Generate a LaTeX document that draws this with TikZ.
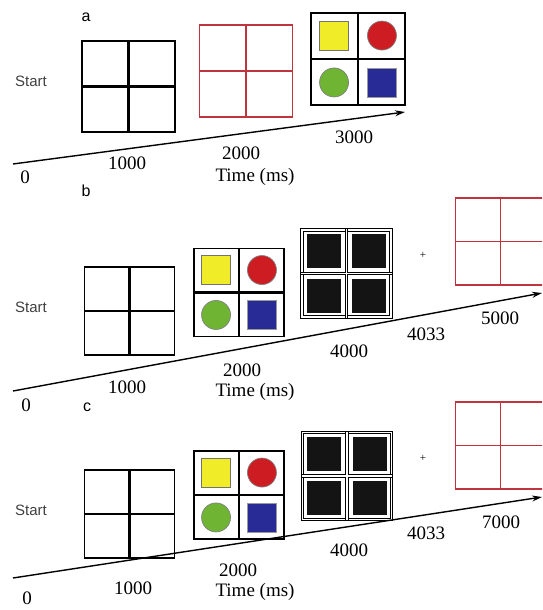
\documentclass[tikz,border=0pt]{standalone}
\usepackage{fontspec}
\setmainfont{Liberation Serif}
\setsansfont{Liberation Sans}
\usetikzlibrary{calc,arrows.meta}
\definecolor{stimred}{RGB}{192,52,62}
\definecolor{stimyellow}{RGB}{240,236,40}
\definecolor{stimgreen}{RGB}{112,180,52}
\definecolor{stimblue}{RGB}{40,42,150}
\definecolor{dotred}{RGB}{205,28,34}
\begin{document}
\begin{tikzpicture}[x=1pt, y=-1pt, >={Stealth[length=10pt,width=6pt]},
  blackgrid/.style={draw, line width=1.8pt, minimum width=90pt, minimum height=88pt, inner sep=0pt},
  blackmid/.style={line width=2.2pt},
  redgrid/.style={draw=stimred, line width=1.4pt, minimum width=90pt, minimum height=87pt, inner sep=0pt},
  redmid/.style={stimred, line width=1.7pt},
  darkgrid/.style={draw, line width=1.1pt, double=white, double distance=1.2pt, minimum width=89pt, minimum height=87pt, inner sep=0pt},
  darkmid/.style={line width=1.1pt, double=white, double distance=1.2pt},
  darksq/.style={fill=black!92, minimum size=34pt, inner sep=0pt},
  colsq/.style={minimum size=29pt, inner sep=0pt, line width=0.7pt},
  coldot/.style={circle, minimum size=29pt, inner sep=0pt, line width=0.7pt},
  timeline/.style={->, line width=1.4pt},
  numlbl/.style={font=\fontsize{19}{21}\selectfont},
  startlbl/.style={font=\sffamily\fontsize{15}{17}\selectfont, text=black!75},
  panellbl/.style={font=\sffamily\fontsize{16}{18}\selectfont}]
\clip (0,0) rectangle (542,610);

% 1. Panel a
\node[panellbl] (labA) at (86,17) {a};
\node[startlbl] (startA) at (31,81) {Start};
\node[blackgrid, minimum width=93pt, minimum height=91pt] (gridA1) at (128.5,86.5) {};
\draw[blackmid] (gridA1.north) -- (gridA1.south) (gridA1.west) -- (gridA1.east);
\node[redgrid, minimum width=93pt, minimum height=92pt] (gridA2) at (246,71) {};
\draw[redmid] (gridA2.north) -- (gridA2.south) (gridA2.west) -- (gridA2.east);
\node[blackgrid, minimum width=94pt, minimum height=92pt] (gridA3) at (358,59) {};
\draw[blackmid] (gridA3.north) -- (gridA3.south) (gridA3.west) -- (gridA3.east);
\node[colsq, fill=stimyellow, draw=black!55] (yelA) at ($(gridA3.center)!0.5!(gridA3.north west)$) {};
\node[coldot, fill=dotred, draw=black!50] (redA) at ($(gridA3.center)!0.5!(gridA3.north east)$) {};
\node[coldot, fill=stimgreen, draw=black!50] (grnA) at ($(gridA3.center)!0.5!(gridA3.south west)$) {};
\node[colsq, fill=stimblue, draw=black!40] (bluA) at ($(gridA3.center)!0.5!(gridA3.south east)$) {};
\coordinate (tA0) at (13,164);
\coordinate (tA1) at (405,112);
\draw[timeline] (tA0) -- (tA1);
\node[numlbl] (zeroA) at (25,177) {0};
\node[numlbl] (tA1000) at (127,163) {1000};
\node[numlbl] (tA2000) at (241,153) {2000};
\node[numlbl] (timeA) at (255,177) {Time (ms)};
\node[numlbl] (tA3000) at (354,137) {3000};

% 2. Panel b
\node[panellbl] (labB) at (86,191) {b};
\node[startlbl] (startB) at (31,307) {Start};
\node[blackgrid] (gridB1) at (129.5,311) {};
\draw[blackmid] (gridB1.north) -- (gridB1.south) (gridB1.west) -- (gridB1.east);
\node[blackgrid] (gridB2) at (239,292.5) {};
\draw[blackmid] (gridB2.north) -- (gridB2.south) (gridB2.west) -- (gridB2.east);
\node[colsq, fill=stimyellow, draw=black!55] (yelB) at ($(gridB2.center)!0.5!(gridB2.north west)$) {};
\node[coldot, fill=dotred, draw=black!50] (redB) at ($(gridB2.center)!0.5!(gridB2.north east)$) {};
\node[coldot, fill=stimgreen, draw=black!50] (grnB) at ($(gridB2.center)!0.5!(gridB2.south west)$) {};
\node[colsq, fill=stimblue, draw=black!40] (bluB) at ($(gridB2.center)!0.5!(gridB2.south east)$) {};
\node[darkgrid] (gridB3) at (346.5,273.5) {};
\draw[darkmid] (gridB3.north) -- (gridB3.south) (gridB3.west) -- (gridB3.east);
\foreach \c in {north west, north east, south west, south east}
  \node[darksq] at ($(gridB3.center)!0.5!(gridB3.\c)$) {};
\node[font=\fontsize{11}{11}\selectfont] (plusB) at (423,255) {+};
\node[redgrid] (gridB4) at (500.5,241.5) {};
\draw[redmid] (gridB4.north) -- (gridB4.south) (gridB4.west) -- (gridB4.east);
\coordinate (tB0) at (13,391);
\coordinate (tB1) at (542,293);
\draw[timeline] (tB0) -- (tB1);
\node[numlbl] (zeroB) at (26,405) {0};
\node[numlbl] (tB1000) at (127,387) {1000};
\node[numlbl] (tB2000) at (242,370) {2000};
\node[numlbl] (timeB) at (255,392) {Time (ms)};
\node[numlbl] (tB4000) at (349,351) {4000};
\node[numlbl] (tB4033) at (426,334) {4033};
\node[numlbl] (tB5000) at (500,318) {5000};

% 3. Panel c
\node[panellbl] (labC) at (87,407) {c};
\node[startlbl] (startC) at (31,510) {Start};
\node[blackgrid] (gridC1) at (129.5,514) {};
\draw[blackmid] (gridC1.north) -- (gridC1.south) (gridC1.west) -- (gridC1.east);
\node[blackgrid] (gridC2) at (239,495) {};
\draw[blackmid] (gridC2.north) -- (gridC2.south) (gridC2.west) -- (gridC2.east);
\node[colsq, fill=stimyellow, draw=black!55] (yelC) at ($(gridC2.center)!0.5!(gridC2.north west)$) {};
\node[coldot, fill=dotred, draw=black!50] (redC) at ($(gridC2.center)!0.5!(gridC2.north east)$) {};
\node[coldot, fill=stimgreen, draw=black!50] (grnC) at ($(gridC2.center)!0.5!(gridC2.south west)$) {};
\node[colsq, fill=stimblue, draw=black!40] (bluC) at ($(gridC2.center)!0.5!(gridC2.south east)$) {};
\node[darkgrid] (gridC3) at (347,476) {};
\draw[darkmid] (gridC3.north) -- (gridC3.south) (gridC3.west) -- (gridC3.east);
\foreach \c in {north west, north east, south west, south east}
  \node[darksq] at ($(gridC3.center)!0.5!(gridC3.\c)$) {};
\node[font=\fontsize{11}{11}\selectfont] (plusC) at (423,458) {+};
\node[redgrid] (gridC4) at (500.5,445.5) {};
\draw[redmid] (gridC4.north) -- (gridC4.south) (gridC4.west) -- (gridC4.east);
\coordinate (tC0) at (13,578);
\coordinate (tC1) at (542,497);
\draw[timeline] (tC0) -- (tC1);
\node[numlbl] (zeroC) at (27,598) {0};
\node[numlbl] (tC1000) at (133,588) {1000};
\node[numlbl] (tC2000) at (238,570) {2000};
\node[numlbl] (timeC) at (255,592) {Time (ms)};
\node[numlbl] (tC4000) at (349,550) {4000};
\node[numlbl] (tC4033) at (426,533) {4033};
\node[numlbl] (tC7000) at (501,522) {7000};
\end{tikzpicture}
\end{document}
